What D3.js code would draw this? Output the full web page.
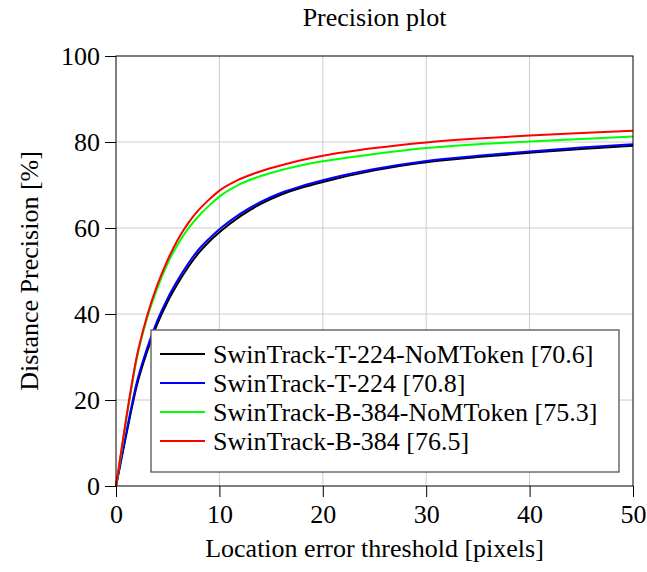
<!DOCTYPE html>
<html>
<head>
<meta charset="utf-8">
<script src="https://cdn.jsdelivr.net/npm/d3@7"></script>
<style>
  body { margin: 0; background: #fff; }
  svg text { font-family: "Liberation Serif", "DejaVu Serif", serif; fill: #000; }
</style>
</head>
<body>
<svg id="chart" width="647" height="572"></svg>
<script>
// thresholds (pixels)
var thresholds = [0, 1, 2, 3, 4, 5, 6, 7, 8, 9, 10, 12, 14, 16, 18, 20, 25, 30, 35, 40, 45, 50];

// distance precision (%) per tracker
var t224NoMToken = [0, 12, 23.2, 31.2, 37.7, 42.9, 47.2, 51, 54.2, 56.8, 59.0, 62.7, 65.6, 67.8, 69.4, 70.7, 73.4, 75.3, 76.5, 77.5, 78.4, 79.1];
var t224 = [0, 12.5, 24, 32, 38.5, 43.7, 48, 51.8, 55, 57.5, 59.7, 63.3, 66.1, 68.2, 69.8, 71.1, 73.7, 75.6, 76.8, 77.8, 78.7, 79.5];
var b384NoMToken = [0, 15.5, 29.5, 39, 46, 51.8, 56.3, 59.9, 62.8, 65.2, 67.3, 70.2, 72.1, 73.5, 74.6, 75.5, 77.2, 78.6, 79.5, 80.1, 80.7, 81.3];
var b384 = [0, 16, 30, 39.5, 46.8, 52.6, 57.4, 61.2, 64.2, 66.6, 68.7, 71.4, 73.2, 74.6, 75.8, 76.8, 78.6, 79.9, 80.8, 81.5, 82.1, 82.6];

var seriesNames = ["SwinTrack-T-224-NoMToken [70.6]", "SwinTrack-T-224 [70.8]", "SwinTrack-B-384-NoMToken [75.3]", "SwinTrack-B-384 [76.5]"];
var seriesColors = ["#000000", "#0000ff", "#00ff00", "#ff0000"];
var seriesValues = [t224NoMToken, t224, b384NoMToken, b384];

var xTicks = [0, 10, 20, 30, 40, 50];
var yTicks = [0, 20, 40, 60, 80, 100];

var margin = {top: 56, right: 14, bottom: 86, left: 116}
  , width = 647 - margin.left - margin.right
  , height = 572 - margin.top - margin.bottom
  , fontSize = "26px";

var svg = d3.select("#chart");
var g = svg.append("g").attr("transform", "translate(" + margin.left + "," + margin.top + ")");

var x = d3.scaleLinear().domain([0, 50]).range([0, width]);
var y = d3.scaleLinear().domain([0, 100]).range([height, 0]);

// grid
g.append("g").selectAll("line").data(xTicks.slice(1, -1)).enter().append("line")
    .attr("x1", function(d) { return x(d); }).attr("x2", function(d) { return x(d); })
    .attr("y1", 0).attr("y2", height)
    .style("stroke", "#cccccc").style("stroke-width", 1);
g.append("g").selectAll("line").data(yTicks.slice(1, -1)).enter().append("line")
    .attr("y1", function(d) { return y(d); }).attr("y2", function(d) { return y(d); })
    .attr("x1", 0).attr("x2", width)
    .style("stroke", "#cccccc").style("stroke-width", 1);

// axes
var xAxis = g.append("g").attr("transform", "translate(0," + height + ")")
    .call(d3.axisBottom(x).tickValues(xTicks).tickSizeOuter(0).tickSizeInner(11).tickPadding(6));
var yAxis = g.append("g")
    .call(d3.axisLeft(y).tickValues(yTicks).tickSizeOuter(0).tickSizeInner(11).tickPadding(5));
[xAxis, yAxis].forEach(function(a) {
  a.select(".domain").remove();
  a.selectAll("text").style("font-size", fontSize).style("font-family", "Liberation Serif");
  a.selectAll("line").style("stroke", "#000");
});
yAxis.selectAll("text").attr("dy", "0.34em");
xAxis.selectAll("text").attr("dy", "0.75em");

// curves
var line = d3.line()
    .x(function(d, i) { return x(thresholds[i]); })
    .y(function(d) { return y(d); })
    .curve(d3.curveMonotoneX);

g.append("g").selectAll("path").data(seriesValues).enter().append("path")
    .attr("d", line)
    .style("fill", "none")
    .style("stroke", function(d, i) { return seriesColors[i]; })
    .style("stroke-width", 2);

// frame
g.append("rect").attr("x", 0).attr("y", 0).attr("width", width).attr("height", height)
    .style("fill", "none").style("stroke", "#000").style("stroke-width", 1);

// legend
var legend = g.append("g").attr("transform", "translate(" + (151 - margin.left) + "," + (330 - margin.top) + ")");
legend.append("rect").attr("width", 468).attr("height", 142)
    .style("fill", "#fff").style("stroke", "#555").style("stroke-width", 1.3);
var rows = legend.selectAll("g.row").data(seriesNames).enter().append("g")
    .attr("class", "row")
    .attr("transform", function(d, i) { return "translate(0," + (24 + i * 29) + ")"; });
rows.append("line").attr("x1", 9).attr("x2", 54).attr("y1", 0).attr("y2", 0)
    .style("stroke", function(d, i) { return seriesColors[i]; }).style("stroke-width", 2);
rows.append("text").attr("x", 62).attr("dy", "0.34em")
    .style("font-size", fontSize).text(function(d) { return d; });

// titles
svg.append("text").attr("x", margin.left + width / 2).attr("y", 26)
    .style("text-anchor", "middle").style("font-size", fontSize).text("Precision plot");
svg.append("text").attr("x", margin.left + width / 2).attr("y", 557)
    .style("text-anchor", "middle").style("font-size", fontSize).text("Location error threshold [pixels]");
svg.append("text").attr("transform", "translate(38," + (margin.top + height / 2) + ") rotate(-90)")
    .style("text-anchor", "middle").style("font-size", fontSize).text("Distance Precision [%]");
</script>
</body>
</html>
